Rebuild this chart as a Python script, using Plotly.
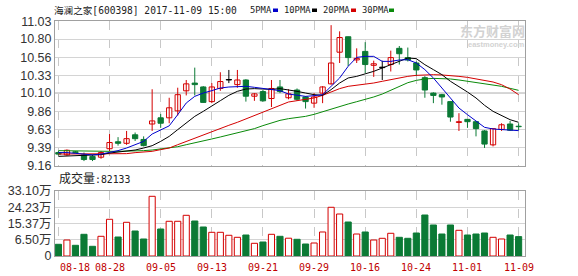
import plotly.graph_objects as go

# ---------------- data ----------------
DATES = ["08-18", "08-21", "08-22", "08-23", "08-24", "08-25", "08-28", "08-29", "08-30", "08-31",
         "09-01", "09-04", "09-05", "09-06", "09-07", "09-08", "09-11", "09-12", "09-13", "09-14",
         "09-15", "09-18", "09-19", "09-20", "09-21", "09-22", "09-25", "09-26", "09-27", "09-28",
         "09-29", "10-09", "10-10", "10-11", "10-12", "10-13", "10-16", "10-17", "10-18", "10-19",
         "10-20", "10-23", "10-24", "10-25", "10-26", "10-27", "10-30", "10-31", "11-01", "11-02",
         "11-03", "11-06", "11-07", "11-08", "11-09"]

OPEN = [9.33, 9.30, 9.34, 9.30, 9.28, 9.27, 9.38, 9.47, 9.45, 9.56,
        9.50, 9.70, 9.78, 9.78, 9.87, 10.13, 10.23, 10.18, 9.99, 10.16,
        10.27, 10.21, 10.27, 10.06, 10.12, 10.03, 10.18, 10.04, 10.14, 10.05,
        9.97, 10.10, 10.22, 10.63, 10.83, 10.53, 10.64, 10.46, 10.43, 10.47,
        10.68, 10.56, 10.49, 10.30, 10.10, 10.08, 9.99, 9.72, 9.76, 9.73,
        9.61, 9.43, 9.63, 9.70, 9.67]
HIGH = [9.35, 9.37, 9.35, 9.33, 9.30, 9.35, 9.57, 9.53, 9.61, 9.59,
        9.54, 10.15, 9.83, 10.04, 10.17, 10.27, 10.43, 10.19, 10.23, 10.37,
        10.40, 10.40, 10.28, 10.10, 10.14, 10.27, 10.27, 10.15, 10.16, 10.06,
        10.10, 10.19, 10.98, 10.90, 10.83, 10.68, 10.76, 10.52, 10.52, 10.65,
        10.71, 10.69, 10.51, 10.32, 10.11, 10.09, 9.99, 9.84, 9.76, 9.73,
        9.62, 9.64, 9.71, 9.74, 9.71]
LOW = [9.29, 9.29, 9.32, 9.22, 9.22, 9.25, 9.35, 9.42, 9.43, 9.48,
       9.41, 9.61, 9.65, 9.71, 9.81, 10.07, 10.07, 9.98, 9.97, 10.13,
       10.23, 10.17, 9.99, 10.00, 9.99, 9.92, 10.10, 10.02, 10.00, 9.90,
       9.91, 9.97, 10.21, 10.49, 10.45, 10.49, 10.36, 10.31, 10.27, 10.38,
       10.47, 10.51, 10.32, 10.04, 9.97, 9.95, 9.73, 9.61, 9.65, 9.54,
       9.39, 9.41, 9.61, 9.61, 9.62]
CLOSE = [9.31, 9.36, 9.33, 9.24, 9.24, 9.33, 9.46, 9.45, 9.51, 9.51,
         9.42, 9.74, 9.71, 9.91, 10.08, 10.22, 10.21, 9.98, 10.18, 10.25,
         10.27, 10.27, 10.06, 10.09, 10.00, 10.16, 10.12, 10.09, 10.02, 9.99,
         10.05, 10.18, 10.49, 10.82, 10.56, 10.55, 10.47, 10.48, 10.43, 10.56,
         10.61, 10.53, 10.40, 10.14, 10.07, 10.05, 9.79, 9.73, 9.73, 9.64,
         9.44, 9.64, 9.69, 9.62, 9.665]

# volume, in 万 (10k lots)
VOLUME = [4.01, 6.36, 3.47, 9.47, 2.92, 8.38, 17.66, 8.00, 16.02, 11.27,
          6.91, 30.21, 12.36, 16.57, 16.57, 19.84, 16.73, 13.46, 10.56, 10.56,
          8.93, 7.83, 9.09, 4.56, 5.27, 9.47, 8.38, 7.34, 6.74, 4.18,
          4.72, 10.73, 24.21, 20.55, 16.18, 9.63, 10.73, 6.36, 7.29, 10.02,
          7.83, 7.29, 10.18, 20.00, 14.55, 9.63, 14.55, 11.65, 9.09, 9.63,
          10.18, 7.83, 6.91, 9.09, 8.21]

MA5 = [9.33, 9.33, 9.32, 9.31, 9.30, 9.31, 9.329, 9.355, 9.389, 9.428,
       9.475, 9.570, 9.627, 9.676, 9.821, 9.972, 10.058, 10.101, 10.132, 10.166,
       10.179, 10.179, 10.188, 10.175, 10.158, 10.145, 10.132, 10.088, 10.071, 10.058,
       10.067, 10.080, 10.188, 10.296, 10.447, 10.563, 10.576, 10.576, 10.511, 10.511,
       10.529, 10.533, 10.490, 10.404, 10.296, 10.166, 10.037, 9.907, 9.821, 9.734,
       9.657, 9.635, 9.627, 9.614, 9.614]
MA10 = [9.281, 9.285, 9.29, 9.29, 9.294, 9.303, 9.324, 9.337, 9.355, 9.363,
        9.389, 9.419, 9.475, 9.540, 9.627, 9.713, 9.799, 9.864, 9.929, 10.002,
        10.071, 10.123, 10.153, 10.158, 10.153, 10.149, 10.158, 10.145, 10.123, 10.101,
        10.080, 10.071, 10.145, 10.231, 10.296, 10.317, 10.347, 10.382, 10.425, 10.468,
        10.520, 10.555, 10.546, 10.468, 10.404, 10.339, 10.253, 10.188, 10.114, 10.037,
        9.942, 9.864, 9.808, 9.756, 9.722]
MA20 = [9.311, 9.311, 9.311, 9.311, 9.311, 9.311, 9.307, 9.311, 9.316, 9.329,
        9.337, 9.346, 9.368, 9.389, 9.432, 9.475, 9.519, 9.562, 9.605, 9.648,
        9.683, 9.722, 9.765, 9.808, 9.851, 9.899, 9.942, 9.985, 10.002, 10.015,
        10.037, 10.071, 10.114, 10.158, 10.188, 10.201, 10.218, 10.231, 10.253, 10.274,
        10.300, 10.317, 10.330, 10.335, 10.339, 10.335, 10.330, 10.317, 10.304, 10.287,
        10.270, 10.244, 10.209, 10.153, 10.080]
MA30 = [9.355, 9.352, 9.35, 9.348, 9.346, 9.346, 9.346, 9.346, 9.346, 9.35,
        9.355, 9.363, 9.376, 9.389, 9.406, 9.432, 9.454, 9.480, 9.506, 9.532,
        9.557, 9.583, 9.609, 9.640, 9.679, 9.713, 9.747, 9.769, 9.782, 9.799,
        9.825, 9.860, 9.899, 9.929, 9.959, 9.989, 10.015, 10.050, 10.088, 10.14,
        10.19, 10.235, 10.265, 10.283, 10.291, 10.291, 10.283, 10.270, 10.253, 10.240,
        10.222, 10.205, 10.188, 10.162, 10.136]

PRICE_TICKS = ["9.16", "9.39", "9.63", "9.86", "10.10", "10.33", "10.56", "10.80", "11.03"]
VOL_TICK_TEXT = ["0", "6.50万", "15.37万", "24.23万", "33.10万"]
VOL_TICK_VALUES = [-2.37, 6.50, 15.37, 24.23, 33.10]
DATE_TICKS = ["08-18", "08-28", "09-05", "09-13", "09-21", "09-29", "10-16", "10-24", "11-01", "11-09"]

TITLE = "海澜之家[600398] 2017-11-09 15:00"
MA_NAMES = ["5PMA", "10PMA", "20PMA", "30PMA"]
LAST_VOLUME = 82133

# ---------------- styles ----------------
W, H = 578, 276
RED = "#d40000"
GREEN = "#0b7a35"
MA_COLORS = ["#0000cc", "#000000", "#d40000", "#0a8a0a"]
GRID = "#d4d4d4"
BORDER = "#a0a0a0"
MONO = "'DejaVu Sans Mono', 'Noto Sans CJK SC', monospace"
SANS = "'Liberation Sans', Arial, 'Noto Sans CJK SC', sans-serif"


def px(x):
    return x / W


def py(y):
    return 1 - y / H


X_DOMAIN = [px(55), px(525)]
MAIN_DOMAIN = [py(165.7), py(21.3)]
VOL_DOMAIN = [py(256), py(191)]

idx = list(range(len(DATES)))
kind = ["up" if c > o else ("down" if c < o else "flat") for o, c in zip(OPEN, CLOSE)]
kcolor = {"up": RED, "down": GREEN, "flat": "#000000"}

fig = go.Figure()

# wicks
for k in ["up", "down", "flat"]:
    xs, ys = [], []
    for i in idx:
        if kind[i] == k:
            xs += [i, i, None]
            ys += [LOW[i], HIGH[i], None]
    fig.add_trace(go.Scatter(x=xs, y=ys, mode="lines", line=dict(color=kcolor[k], width=1),
                             xaxis="x", yaxis="y", hoverinfo="skip", showlegend=False))

# candle bodies
body_base = [min(o, c) for o, c in zip(OPEN, CLOSE)]
body_h = [max(abs(c - o), 0.006) for o, c in zip(OPEN, CLOSE)]
fill = ["#ffffff" if k == "up" else kcolor[k] for k in kind]
edge = [kcolor[k] for k in kind]
fig.add_trace(go.Bar(x=idx, y=body_h, base=body_base, width=0.62,
                     marker=dict(color=fill, line=dict(color=edge, width=1)),
                     xaxis="x", yaxis="y", showlegend=False))

# moving averages
for vals, col in zip([MA30, MA20, MA10, MA5], MA_COLORS[::-1]):
    fig.add_trace(go.Scatter(x=idx, y=vals, mode="lines", line=dict(color=col, width=1),
                             xaxis="x", yaxis="y", showlegend=False, hoverinfo="skip"))

# volume
vol_floor = VOL_TICK_VALUES[0]
vup = [c >= o for o, c in zip(OPEN, CLOSE)]
fig.add_trace(go.Bar(x=idx, y=[v - vol_floor for v in VOLUME], base=vol_floor, width=0.72,
                     marker=dict(color=["#ffffff" if u else GREEN for u in vup],
                                 line=dict(color=[RED if u else GREEN for u in vup], width=1)),
                     xaxis="x2", yaxis="y2", showlegend=False))

tick_idx = [DATES.index(d) for d in DATE_TICKS]
xr = [-0.4, 54.75]

axis_common = dict(showline=True, mirror=True, linecolor=BORDER, linewidth=1, zeroline=False,
                   automargin=False, fixedrange=True)

fig.update_layout(
    width=W, height=H, margin=dict(l=0, r=0, t=0, b=0),
    paper_bgcolor="white", plot_bgcolor="white", barmode="overlay", showlegend=False,
    xaxis=dict(domain=X_DOMAIN, range=xr, anchor="y", tickvals=tick_idx, showticklabels=False,
               showgrid=True, gridcolor="#c8c8c8", griddash="dash", gridwidth=1, ticks="", **axis_common),
    yaxis=dict(domain=MAIN_DOMAIN, range=[float(PRICE_TICKS[0]), float(PRICE_TICKS[-1])], anchor="x",
               tickvals=[float(t) for t in PRICE_TICKS], ticktext=PRICE_TICKS,
               showgrid=True, gridcolor=GRID, ticks="",
               tickfont=dict(family=SANS, size=12.5, color="#333333"), **axis_common),
    xaxis2=dict(domain=X_DOMAIN, range=xr, anchor="y2", tickvals=tick_idx, showticklabels=False,
                showgrid=True, gridcolor="#c8c8c8", griddash="dash", gridwidth=1, ticks="", **axis_common),
    yaxis2=dict(domain=VOL_DOMAIN, range=[VOL_TICK_VALUES[0], VOL_TICK_VALUES[-1]], anchor="x2",
                tickvals=VOL_TICK_VALUES, ticktext=VOL_TICK_TEXT,
                showgrid=True, gridcolor=GRID, ticks="",
                tickfont=dict(family=SANS, size=12.5, color="#333333"), **axis_common),
)

# darker reference line at 10.10
fig.add_shape(type="line", xref="x domain", yref="y", x0=0, x1=1, y0=10.10, y1=10.10,
              line=dict(color="#999999", width=1), layer="below")

ann = []
# title
ann.append(dict(text=TITLE, x=px(52), y=py(10), xref="paper", yref="paper", xanchor="left",
                yanchor="middle", showarrow=False, font=dict(family=MONO, size=9.6, color="#222222")))
# MA legend
leg_x = [248, 282, 321, 360]
leg_sq = [273, 312, 351, 389]
for name, col, lx, sx in zip(MA_NAMES, MA_COLORS, leg_x, leg_sq):
    ann.append(dict(text=name, x=px(lx), y=py(10), xref="paper", yref="paper", xanchor="left",
                    yanchor="middle", showarrow=False, font=dict(family=MONO, size=8.8, color="#222222")))
    fig.add_shape(type="rect", xref="paper", yref="paper", x0=px(sx), x1=px(sx + 5),
                  y0=py(12), y1=py(8.5), fillcolor=col, line=dict(width=0))
# volume label
ann.append(dict(text="<span style='font-size:12px'>成交量</span>:" + str(LAST_VOLUME),
                x=px(57), y=py(178.5), xref="paper", yref="paper", xanchor="left", yanchor="middle",
                showarrow=False, font=dict(family=MONO, size=9.8, color="#222222")))
# date labels
for j, (d, ti) in enumerate(zip(DATE_TICKS, tick_idx)):
    ann.append(dict(text=d, x=ti, y=py(267.5), xref="x2", yref="paper",
                    xanchor="left" if j == 0 else "center", yanchor="middle", showarrow=False,
                    font=dict(family=MONO, size=10, color="#c00000")))
# watermark
ann.append(dict(text="<b>东方财富网</b>", x=px(527), y=py(30.5), xref="paper", yref="paper",
                xanchor="right", yanchor="middle", showarrow=False,
                font=dict(family="'Noto Sans CJK SC'", size=13, color="#d2d2d2")))
ann.append(dict(text="<b>eastmoney.com</b>", x=px(526), y=py(44), xref="paper", yref="paper",
                xanchor="right", yanchor="middle", showarrow=False,
                font=dict(family=SANS, size=7.5, color="#d2d2d2")))
fig.update_layout(annotations=ann)

fig.write_html("out.html")
